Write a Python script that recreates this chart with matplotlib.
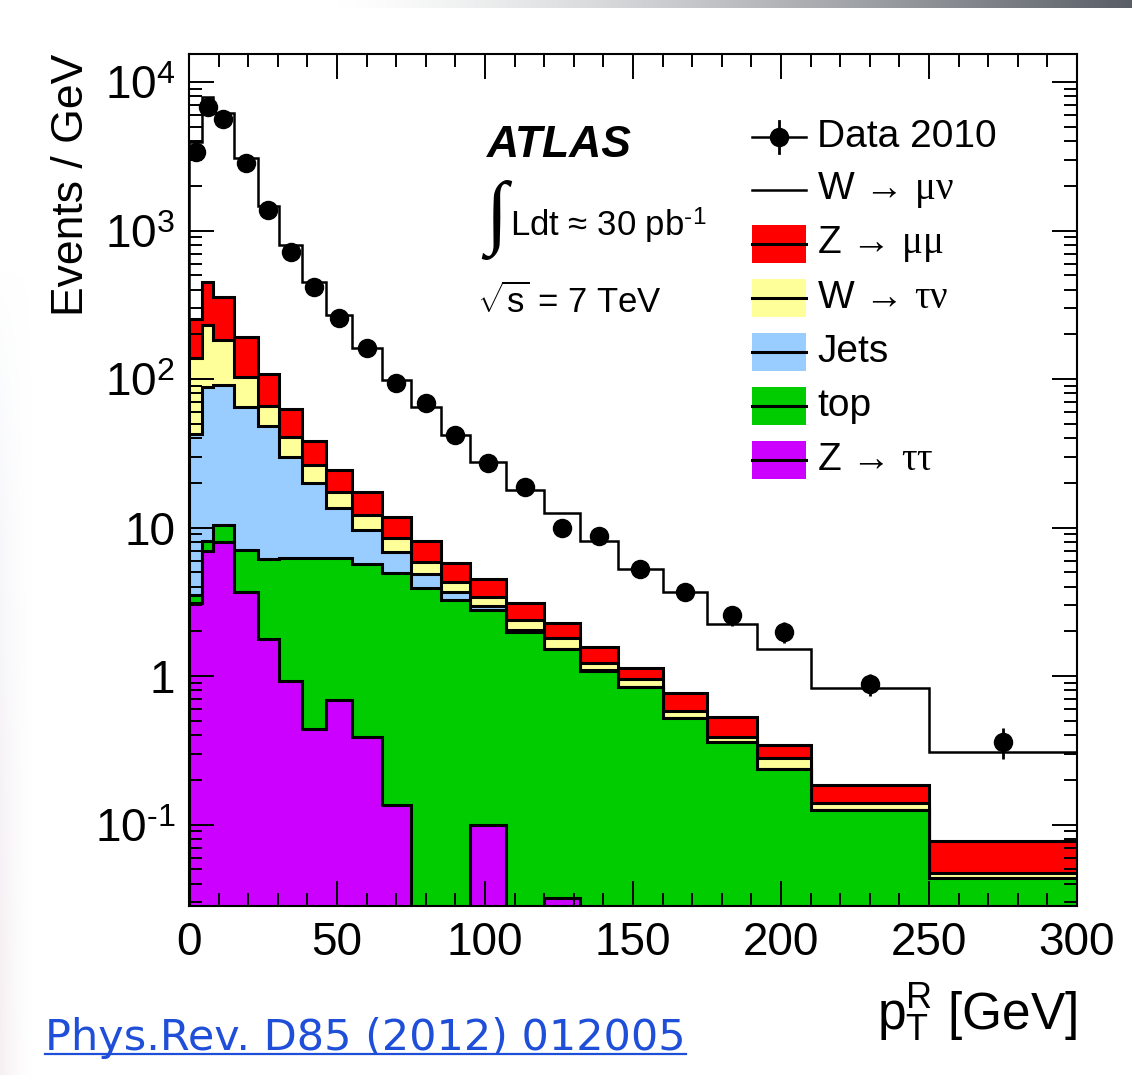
import numpy as np
import matplotlib
matplotlib.use("Agg")
import matplotlib.pyplot as plt
from matplotlib.ticker import FixedLocator, FixedFormatter, LogLocator, NullFormatter, MultipleLocator
from matplotlib.lines import Line2D
from matplotlib.patches import Rectangle

# recoil pT binning (GeV)
bin_edges = [0, 4.4, 8.1, 15.2, 23.3, 30.4, 38.2, 46.3, 55.1, 65.2, 75, 85, 95,
             107, 120, 132, 145, 160, 175, 192, 210, 250, 300]

# observed events / GeV and stat. errors
data_2010 = [3380, 6820, 5610, 2840, 1374, 720, 418, 256, 163, 93.5, 68.6, 42,
             27.1, 18.8, 9.9, 8.8, 5.3, 3.7, 2.57, 1.99, 0.89, 0.36]
data_err = [27.7, 42.9, 28.1, 18.7, 13.9, 9.6, 7.2, 5.4, 4.0, 3.1, 2.6, 2.0,
            1.5, 1.2, 0.9, 0.82, 0.6, 0.5, 0.39, 0.33, 0.15, 0.085]

# MC predictions, events / GeV per process
z_tautau = [3.1, 6.95, 8.0, 3.66, 1.79, 0.93, 0.44, 0.69, 0.39, 0.135, 0, 0,
            0.1, 0, 0.032, 0, 0, 0, 0, 0, 0, 0]
top = [0.41, 1.15, 2.4, 3.39, 4.31, 5.27, 5.76, 5.57, 5.29, 4.79, 3.9, 3.25,
       2.68, 1.99, 1.48, 1.09, 0.84, 0.52, 0.36, 0.235, 0.125, 0.044]
jets = [39.1, 80.6, 80.6, 58, 42.4, 23.8, 13.8, 7.2, 3.9, 1.95, 0.96, 0.41,
        0.18, 0.05, 0.02, 0.01, 0, 0, 0, 0, 0, 0]
w_taunu = [95, 142, 92, 39, 17.5, 10.9, 6.4, 3.9, 2.5, 1.59, 1.03, 0.66,
           0.46, 0.33, 0.26, 0.12, 0.11, 0.065, 0.03, 0.044, 0.014, 0.003]
z_mumu = [116, 221, 175, 87, 42, 21.9, 11.8, 7.0, 5.2, 3.34, 2.26, 1.42,
          1.06, 0.74, 0.47, 0.36, 0.19, 0.18, 0.137, 0.064, 0.046, 0.03]
w_munu = [3690, 7510, 5790, 2870, 1360, 735, 414, 246, 144, 86.7, 56.9, 36.3,
          23.2, 14.8, 10.2, 6.57, 4.11, 2.94, 1.73, 1.17, 0.64, 0.232]

plt.rcParams['font.family'] = ['Liberation Sans', 'DejaVu Sans']
plt.rcParams['mathtext.fontset'] = 'custom'
plt.rcParams['mathtext.rm'] = 'Liberation Sans'
plt.rcParams['mathtext.it'] = 'Liberation Serif'
plt.rcParams['mathtext.bf'] = 'Liberation Sans:bold'

W, H = 1132, 1075
fig = plt.figure(figsize=(W / 100, H / 100), dpi=100)
ax = fig.add_axes([189 / W, 169 / H, 888 / W, 852 / H])

edges = np.array(bin_edges, dtype=float)
centers = 0.5 * (edges[1:] + edges[:-1])

# stack order bottom -> top
stack = [
    ('Z \u2192 $\\tau\\tau$', z_tautau, '#cc00ff'),
    ('top', top, '#00cc00'),
    ('Jets', jets, '#99ccff'),
    ('W \u2192 $\\tau\\nu$', w_taunu, '#ffff99'),
    ('Z \u2192 $\\mu\\mu$', z_mumu, '#ff0000'),
]
levels = np.cumsum([np.array(s[1], dtype=float) for s in stack], axis=0)
total = levels[-1] + np.array(w_munu)
floor = 1e-4

ax.stairs(total, edges, color='black', lw=1.8, zorder=1.2)
for (name, vals, col), level in reversed(list(zip(stack, levels))):
    ax.stairs(np.maximum(level, floor), edges, baseline=floor, fill=True,
              facecolor=col, edgecolor='black', lw=2.2, zorder=1.3)

ax.errorbar(centers, data_2010, yerr=data_err, fmt='o', color='black', ms=13,
            elinewidth=2, capsize=0, zorder=4)

ax.set_yscale('log')
ax.set_xlim(0, 300)
ax.set_ylim(0.0283, 1.545e4)
ax.xaxis.set_major_locator(MultipleLocator(50))
ax.xaxis.set_minor_locator(MultipleLocator(10))
ax.yaxis.set_major_locator(FixedLocator([0.1, 1, 10, 100, 1e3, 1e4]))
ax.yaxis.set_major_formatter(FixedFormatter([r'10$^{\text{-1}}$', '1', '10',
                                             '10$^2$', '10$^3$', '10$^4$']))
ax.yaxis.set_minor_locator(LogLocator(base=10, subs=np.arange(2, 10), numticks=20))
ax.yaxis.set_minor_formatter(NullFormatter())
ax.set_axisbelow(False)
ax.tick_params(which='both', direction='in', top=True, right=True, width=1.4)
ax.tick_params(which='major', length=18, labelsize=33)
ax.tick_params(which='minor', length=9.5)
ax.tick_params(axis='x', pad=11)
ax.tick_params(axis='y', pad=10)
for sp in ax.spines.values():
    sp.set_linewidth(1.5)

ax.set_ylabel('Events / GeV', fontsize=32, loc='top', labelpad=2)
ax.text(1.0, -0.1455, r'p$_{\mathrm{T}}^{\mathrm{R}}$ [GeV]', transform=ax.transAxes,
        ha='right', va='baseline', fontsize=37)

# experiment labels
ax.text(0.3356, 0.879, 'ATLAS', transform=ax.transAxes, fontsize=32,
        fontweight='bold', fontstyle='italic', va='baseline')
ax.text(0.333, 0.805, '\u222b', transform=ax.transAxes, fontsize=58,
        family='Liberation Serif', va='center', ha='left')
ax.text(0.3615, 0.785, 'Ldt \u2248 30 pb$^{\\text{-1}}$', transform=ax.transAxes,
        fontsize=25, va='baseline')
ax.text(0.324, 0.696, r'$\sqrt{\mathrm{s}}$ = 7 TeV', transform=ax.transAxes,
        fontsize=25, va='baseline')

# legend
rows_px = [137, 190, 244, 298, 352, 406, 460]
bx0, bx1 = (752 - 189) / 888, (806 - 189) / 888
tx = (817 - 189) / 888
bh = 38 / 852
entries = [('Data 2010', None, 'data'), ('W \u2192 $\\mu\\nu$', None, 'line')]
entries += [(name, col, 'fill') for name, vals, col in reversed(stack)]
for (label, col, kind), ypx in zip(entries, rows_px):
    yc = (906 - ypx) / 852
    if kind == 'fill':
        ax.add_patch(Rectangle((bx0, yc - bh / 2), bx1 - bx0, bh, facecolor=col,
                               edgecolor='none', transform=ax.transAxes, zorder=5))
    ax.add_line(Line2D([bx0, bx1], [yc, yc], color='black',
                       lw=1.8 if kind != 'fill' else 2.2, transform=ax.transAxes, zorder=6))
    if kind == 'data':
        ax.add_line(Line2D([(bx0 + bx1) / 2] * 2, [yc - 16 / 852, yc + 16 / 852], color='black',
                           lw=2, transform=ax.transAxes, zorder=6))
        ax.plot([(bx0 + bx1) / 2], [yc], 'o', color='black', ms=13,
                transform=ax.transAxes, zorder=7)
    ax.text(tx, yc, label, transform=ax.transAxes, fontsize=28, va='center', ha='left')

# slide decoration: gradient bar at the top, faint tint on the left edge
bar = fig.add_axes([0, 1 - 8 / H, 1, 8 / H])
ramp = np.clip((np.linspace(0, 1, 400) - 0.3) / 0.7, 0, 1)
rgb = np.stack([1 - 0.65 * ramp ** 1.3, 1 - 0.63 * ramp ** 1.3, 1 - 0.6 * ramp ** 1.3], axis=-1)
bar.imshow(rgb[None, :, :], aspect='auto', extent=[0, 1, 0, 1])
bar.set_axis_off()

edge = fig.add_axes([0, 0, 34 / W, 0.75])
fade_x = np.linspace(1, 0, 34) ** 1.5
down = np.linspace(0, 1, 200)[:, None]      # 0 at the top row, 1 at the bottom row
tint = np.zeros((200, 34, 4))
tint[..., 0] = 0.88 + 0.06 * down
tint[..., 1] = 0.91 - 0.03 * down
tint[..., 2] = 0.95 - 0.05 * down
tint[..., 3] = 0.5 * fade_x[None, :] * np.sin(np.pi * 0.5 * down) ** 0.8
edge.imshow(tint, aspect='auto', extent=[0, 1, 0, 1])
edge.set_axis_off()

link = fig.text(45 / W, 1 - 1050 / H, 'Phys.Rev. D85 (2012) 012005', fontsize=31,
                color='#1f4fd8', family='DejaVu Sans', va='baseline', ha='left')
fig.canvas.draw()
bb = link.get_window_extent()
fig.add_artist(Line2D([bb.x0 / W, bb.x1 / W], [(bb.y0 + 5) / H] * 2, color='#1f4fd8', lw=1.6))

fig.savefig('out.png', dpi=100)
